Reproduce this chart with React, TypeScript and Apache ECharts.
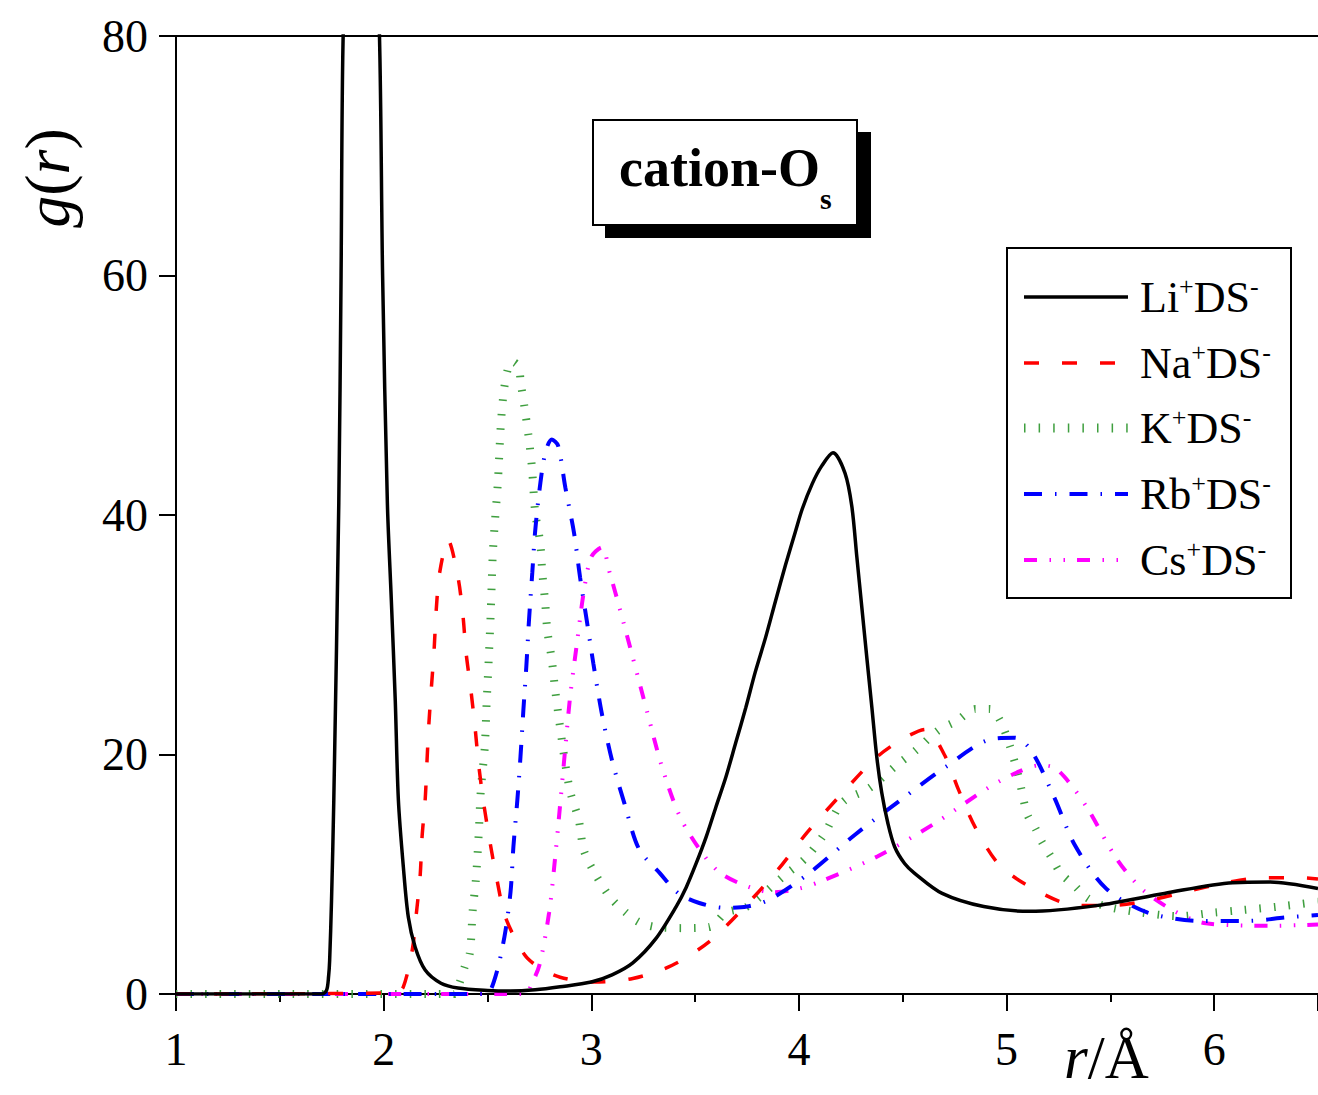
import React, { useEffect, useRef } from "react";
import * as echarts from "echarts";

// ---- data ----
const xTicks = [1, 2, 3, 4, 5, 6];
const yTicks = [0, 20, 40, 60, 80];

const liR = [1.0, 1.70, 1.725, 1.735, 1.740, 1.749, 1.760, 1.784, 1.795, 1.805, 1.85, 1.89, 1.94, 1.98, 1.995, 2.018, 2.037, 2.056, 2.071, 2.095, 2.119, 2.152, 2.2, 2.276, 2.358, 2.5, 2.61, 2.73, 2.85, 3.0, 3.1, 3.2, 3.31, 3.409, 3.457, 3.505, 3.553, 3.6, 3.648, 3.696, 3.744, 3.79, 3.84, 3.887, 3.935, 3.983, 4.016, 4.064, 4.11, 4.164, 4.222, 4.255, 4.279, 4.303, 4.327, 4.351, 4.375, 4.399, 4.428, 4.461, 4.509, 4.556, 4.69, 4.89, 5.11, 5.44, 5.76, 6.09, 6.27, 6.5];
const liG = [0, 0, 0.3, 1.5, 2.8, 7.8, 16.2, 41, 60, 80, 105, 112, 100, 80, 60, 41, 32.9, 24.5, 16.2, 10.6, 6.4, 3.9, 2.0, 0.9, 0.5, 0.3, 0.25, 0.35, 0.6, 1.0, 1.6, 2.6, 4.6, 7.3, 8.9, 10.9, 13.1, 15.6, 18.1, 21, 23.9, 26.9, 29.8, 32.8, 35.8, 38.6, 40.5, 42.6, 44.1, 45.2, 43.5, 40.7, 36.5, 32.3, 28.1, 24, 19.8, 16.8, 14.3, 12.3, 10.9, 10.1, 8.4, 7.3, 6.9, 7.4, 8.4, 9.3, 9.35, 8.8];

const naR = [1.0, 2.06, 2.095, 2.138, 2.158, 2.176, 2.185, 2.2, 2.209, 2.218, 2.23, 2.243, 2.253, 2.27, 2.31, 2.358, 2.382, 2.397, 2.42, 2.44, 2.458, 2.482, 2.51, 2.544, 2.587, 2.678, 2.75, 2.85, 3.01, 3.2, 3.39, 3.57, 3.74, 3.9, 4.04, 4.2, 4.37, 4.5, 4.61, 4.7, 4.77, 4.85, 4.97, 5.16, 5.34, 5.51, 5.68, 5.88, 6.06, 6.23, 6.42, 6.5];
const naG = [0, 0.1, 0.6, 3.7, 6.8, 9.9, 13.1, 16.2, 19.5, 22.6, 25.6, 28.7, 32, 35.2, 37.9, 34.8, 31.6, 28.5, 25.4, 22.3, 19.1, 15.9, 12.9, 9.7, 6.4, 3.3, 2.2, 1.4, 1.0, 1.3, 2.4, 4.4, 7.3, 10.4, 13.5, 16.6, 19.7, 21.3, 22.1, 20, 17, 13.9, 10.7, 8.5, 7.4, 7.4, 7.8, 8.6, 9.3, 9.7, 9.7, 9.6];

const kR = [1.0, 2.34, 2.367, 2.391, 2.415, 2.429, 2.444, 2.458, 2.468, 2.487, 2.496, 2.506, 2.515, 2.52, 2.525, 2.534, 2.55, 2.565, 2.58, 2.6, 2.62, 2.65, 2.66, 2.68, 2.70, 2.715, 2.73, 2.754, 2.764, 2.778, 2.788, 2.81, 2.826, 2.845, 2.874, 2.9, 2.94, 2.964, 3.01, 3.09, 3.16, 3.23, 3.31, 3.45, 3.57, 3.65, 3.75, 3.93, 4.03, 4.12, 4.21, 4.34, 4.47, 4.56, 4.67, 4.76, 4.85, 4.92, 4.97, 5.02, 5.06, 5.1, 5.14, 5.17, 5.22, 5.26, 5.33, 5.39, 5.48, 5.65, 5.83, 6.0, 6.13, 6.31, 6.5];
const kG = [0, 0, 1, 2.3, 3.4, 7, 9.5, 13.4, 17, 20.6, 24.3, 27.9, 31.5, 34, 36.5, 39, 42.7, 47.7, 50.5, 52.3, 52.8, 52.4, 51.1, 48.8, 46.3, 43.8, 40.2, 37.7, 35.2, 32.7, 30.4, 27.9, 25.4, 22.9, 19.3, 16.8, 14.5, 12, 10.3, 8.1, 6.9, 6.0, 5.6, 5.5, 5.6, 6.8, 7.3, 9.9, 11.3, 13.3, 16, 17.2, 19.1, 20.3, 22, 22.8, 23.8, 23.8, 22.8, 20.5, 18, 15, 13.8, 12.7, 11.3, 10.1, 9, 8, 7.3, 6.8, 6.5, 6.8, 7, 7.3, 7.7];

const rbR = [1.0, 2.49, 2.534, 2.582, 2.611, 2.625, 2.644, 2.659, 2.673, 2.687, 2.70, 2.716, 2.73, 2.755, 2.78, 2.81, 2.84, 2.875, 2.917, 2.946, 2.98, 3.01, 3.05, 3.1, 3.16, 3.23, 3.33, 3.42, 3.52, 3.64, 3.75, 3.86, 4.05, 4.27, 4.49, 4.71, 4.93, 5.04, 5.12, 5.23, 5.33, 5.48, 5.68, 5.94, 6.16, 6.35, 6.5];
const rbG = [0, 0, 1.2, 4.8, 8.5, 12.3, 16.2, 19.8, 23.7, 27.3, 31.2, 35.2, 38.7, 42.7, 45.3, 46.3, 45.8, 42.3, 38.5, 34.8, 31, 27.6, 23.5, 19.5, 15.9, 12.1, 10.1, 8.4, 7.6, 7.2, 7.3, 7.9, 10.1, 13.3, 16.2, 19, 21.3, 21.4, 20.3, 16.4, 12.4, 8.8, 6.8, 6.1, 6.1, 6.4, 6.6];

const csR = [1.0, 2.69, 2.707, 2.75, 2.797, 2.826, 2.85, 2.874, 2.898, 2.931, 2.965, 3.0, 3.05, 3.09, 3.14, 3.2, 3.27, 3.34, 3.43, 3.55, 3.63, 3.75, 3.87, 4.0, 4.12, 4.38, 4.65, 4.91, 5.05, 5.16, 5.23, 5.3, 5.39, 5.53, 5.65, 5.8, 5.96, 6.29, 6.5];
const csG = [0, 0, 0.6, 2.4, 6.8, 11.4, 15.8, 20.4, 24.8, 29.3, 33.7, 36.5, 37.3, 35.1, 32, 28.1, 23.5, 19, 14.7, 11.4, 10.0, 9.0, 8.5, 8.8, 9.5, 11.5, 14.2, 17.2, 18.5, 19.1, 18.9, 17.7, 15.5, 11.3, 8.8, 7, 5.9, 5.7, 5.8];

const seriesNames = ["Li", "Na", "K", "Rb", "Cs"];
const FONT = "'Liberation Serif', 'Times New Roman', serif";

const zip = (r: number[], g: number[]) => r.map((v, i) => [v, g[i]]);

const styles: Record<string, { color: string; width: number; dash: any }> = {
  Li: { color: "#000000", width: 3.5, dash: "solid" },
  Na: { color: "#ff0000", width: 3.5, dash: [15, 23] },
  K: { color: "#3f9f3f", width: 8, dash: [1.5, 13.1] },
  Rb: { color: "#0000ff", width: 4, dash: [18, 13, 1.5, 13] },
  Cs: { color: "#ff00ff", width: 4, dash: [13, 12.5, 1.5, 12.5, 1.5, 12] },
};

const dataMap: Record<string, number[][]> = {
  Li: zip(liR, liG),
  Na: zip(naR, naG),
  K: zip(kR, kG),
  Rb: zip(rbR, rbG),
  Cs: zip(csR, csG),
};

export default function App() {
  const ref = useRef<HTMLDivElement>(null);
  useEffect(() => {
    document.body.style.margin = "0";
    if (!ref.current) return;
    const chart = echarts.init(ref.current, null, { renderer: "svg" });

    const drawOrder = ["K", "Cs", "Rb", "Na", "Li"];
    const series = drawOrder.map((n, i) => ({
      name: n,
      type: "line",
      data: dataMap[n],
      showSymbol: false,
      symbol: "none",
      smooth: 0.3,
      clip: true,
      z: 2 + i,
      silent: true,
      lineStyle: {
        color: styles[n].color,
        width: styles[n].width,
        type: styles[n].dash,
        cap: "butt",
      },
    }));

    const legendRows = [297, 363, 428, 494, 560];
    const legendGraphics: any[] = [
      {
        type: "rect",
        z: 100,
        shape: { x: 1007, y: 248, width: 284, height: 350 },
        style: { fill: "#fff", stroke: "#000", lineWidth: 2 },
      },
    ];
    seriesNames.forEach((n, i) => {
      const s = styles[n];
      legendGraphics.push({
        type: "line",
        z: 101,
        shape: { x1: 1024, y1: legendRows[i], x2: 1128, y2: legendRows[i] },
        style: {
          stroke: s.color,
          lineWidth: n === "K" ? 9 : s.width,
          lineDash: s.dash === "solid" ? null : s.dash,
          lineCap: "butt",
        },
      });
      legendGraphics.push({
        type: "text",
        z: 101,
        x: 1140,
        y: legendRows[i],
        style: {
          text: `{m|${n}}{s|+}{m|DS}{s|-}`,
          fill: "#000",
          verticalAlign: "middle",
          align: "left",
          rich: {
            m: { fontFamily: FONT, fontSize: 44, lineHeight: 48, fill: "#000", verticalAlign: "middle" },
            s: { fontFamily: FONT, fontSize: 26, lineHeight: 12, fill: "#000", verticalAlign: "top" },
          },
        },
      });
    });

    const option: any = {
      animation: false,
      backgroundColor: "#fff",
      grid: { left: 176, top: 36, right: -8.6, bottom: 101, containLabel: false },
      xAxis: [
        {
          type: "value",
          min: xTicks[0],
          max: 6.5,
          interval: 1,
          position: "bottom",
          axisLine: { show: true, onZero: false, lineStyle: { color: "#000", width: 2 } },
          axisTick: { show: true, inside: false, length: 17, lineStyle: { color: "#000", width: 2 } },
          minorTick: { show: true, splitNumber: 2, length: 8, lineStyle: { color: "#000", width: 2 } },
          axisLabel: {
            show: true,
            fontFamily: FONT,
            fontSize: 46,
            color: "#000",
            margin: 32,
            showMaxLabel: false,
            formatter: (v: number) => (xTicks.includes(v) ? String(v) : ""),
          },
          splitLine: { show: false },
          minorSplitLine: { show: false },
        },
        {
          type: "value",
          min: xTicks[0],
          max: 6.5,
          position: "top",
          axisLine: { show: true, onZero: false, lineStyle: { color: "#000", width: 2 } },
          axisTick: { show: false },
          axisLabel: { show: false },
          splitLine: { show: false },
        },
      ],
      yAxis: {
        type: "value",
        min: yTicks[0],
        max: yTicks[yTicks.length - 1],
        interval: 20,
        axisLine: { show: true, onZero: false, lineStyle: { color: "#000", width: 2 } },
        axisTick: { show: true, inside: false, length: 17, lineStyle: { color: "#000", width: 2 } },
        axisLabel: { fontFamily: FONT, fontSize: 46, color: "#000", margin: 28 },
        splitLine: { show: false },
      },
      series,
      graphic: [
        // title box with shadow
        {
          type: "rect",
          z: 100,
          shape: { x: 605, y: 132, width: 266, height: 106 },
          style: { fill: "#000" },
        },
        {
          type: "rect",
          z: 101,
          shape: { x: 593, y: 120, width: 264, height: 105 },
          style: { fill: "#fff", stroke: "#000", lineWidth: 2 },
        },
        {
          type: "text",
          z: 102,
          x: 619,
          y: 168,
          style: {
            text: "{m|cation-O}{s|s}",
            align: "left",
            verticalAlign: "middle",
            rich: {
              m: { fontFamily: FONT, fontSize: 54, fontWeight: "bold", lineHeight: 90, fill: "#000", verticalAlign: "middle" },
              s: { fontFamily: FONT, fontSize: 30, fontWeight: "bold", lineHeight: 24, fill: "#000", verticalAlign: "bottom" },
            },
          },
        },
        ...legendGraphics,
        // y axis name
        {
          type: "text",
          z: 100,
          x: 47,
          y: 178,
          rotation: Math.PI / 2,
          style: {
            text: "{i|g}{n|(}{i|r}{n|)}",
            align: "center",
            verticalAlign: "middle",
            rich: {
              i: { fontFamily: FONT, fontSize: 64, fontStyle: "italic", fill: "#000" },
              n: { fontFamily: FONT, fontSize: 64, fill: "#000" },
            },
          },
        },
        // x axis name
        {
          type: "text",
          z: 100,
          x: 1064,
          y: 1057,
          style: {
            text: "{i|r}{n|/Å}",
            align: "left",
            verticalAlign: "middle",
            rich: {
              i: { fontFamily: FONT, fontSize: 61, lineHeight: 60, fontStyle: "italic", fill: "#000" },
              n: { fontFamily: FONT, fontSize: 61, lineHeight: 60, fill: "#000" },
            },
          },
        },
      ],
    };
    chart.setOption(option);
    return () => chart.dispose();
  }, []);

  return <div ref={ref} style={{ width: 1318, height: 1095, position: "absolute", left: 0, top: 0 }} />;
}
